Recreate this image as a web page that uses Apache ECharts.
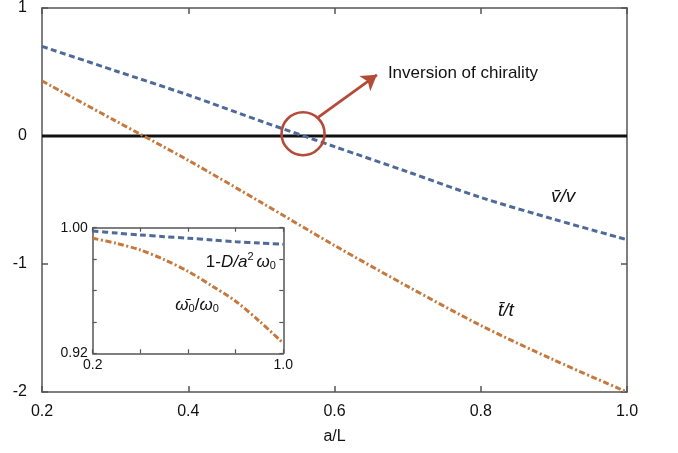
<!DOCTYPE html>
<html>
<head>
<meta charset="utf-8">
<script src="https://cdn.jsdelivr.net/npm/echarts@6/dist/echarts.min.js"></script>
<style>
  html, body { margin: 0; padding: 0; background: #fff; }
  #chart { width: 678px; height: 453px; }
</style>
</head>
<body>
<div id="chart"></div>
<script>
// main panel: a/L vs ratios
const aL = [0.2, 0.3, 0.4, 0.5, 0.6, 0.7, 0.8, 0.9, 1.0];
const vRatio = [0.70, 0.51, 0.32, 0.115, -0.083, -0.28, -0.48, -0.65, -0.81];
const tRatio = [0.43, 0.12, -0.19, -0.52, -0.855, -1.175, -1.48, -1.75, -2.0];
const zeroLineX = [0.2, 1.0];
const zeroLineY = [0, 0];

// inset panel
const insetAL = [0.2, 0.3, 0.4, 0.5, 0.6, 0.7, 0.8, 0.9, 1.0];
const dTerm = [0.9979, 0.9966, 0.9954, 0.9943, 0.9933, 0.9922, 0.9911, 0.9902, 0.9894];
const omegaRatio = [0.9933, 0.990, 0.9858, 0.9797, 0.9722, 0.963, 0.9532, 0.9404, 0.9264];

// annotation anchors (data coords)
const circleAt = [0.557, 0.018];
const arrowFrom = [0.578, 0.147];
const arrowTo = [0.658, 0.478];
const noteAt = [0.673, 0.488];
const mainLabels = [
  { text: "v\u0304/v", at: [0.9125, -0.473] },
  { text: "t\u0304/t", at: [0.8345, -1.364] },
];
const insetLabels = [
  { text: "1-{i|D/a}{s|2}{i|\u03c9}{b|0}", at: [0.822, 0.9782] },
  { text: "{i|\u03c9\u0304}{b|0}/{i|\u03c9}{b|0}", at: [0.638, 0.9508] },
];

const FONT = "Liberation Sans";
const BLUE = "#4e6a97";
const ORANGE = "#c5793f";
const RED = "#b44a38";
const AXIS = "#555";
const INK = "#111";

const pairs = (xs, ys) => xs.map((x, i) => [x, ys[i]]);

const axisCommon = (extra) => ({
  type: "value",
  axisLine: { show: true, onZero: false, lineStyle: { color: AXIS, width: 1.5 } },
  axisTick: { show: true, inside: true, length: 6, lineStyle: { color: AXIS, width: 1.5 } },
  splitLine: { show: false },
  axisLabel: { show: false },
  ...extra,
});
const insetTick = { show: true, inside: true, length: 4, lineStyle: { color: AXIS, width: 1.2 } };

const chart = echarts.init(document.getElementById("chart"), null, { renderer: "canvas" });

chart.setOption({
  animation: false,
  backgroundColor: "#fff",
  grid: [
    { left: 42, top: 5, right: 51, bottom: 61 },
    { left: 92.7, top: 227.7, width: 190.6, height: 125.6, show: true, backgroundColor: "#fff", borderWidth: 0 },
  ],
  xAxis: [
    axisCommon({
      gridIndex: 0, min: 0.2, max: 1.0, interval: 0.2, position: "bottom",
      name: "a/L", nameLocation: "middle", nameGap: 37,
      nameTextStyle: { fontFamily: FONT, fontSize: 16, color: INK },
      axisLabel: { show: true, margin: 12, fontFamily: FONT, fontSize: 16, color: INK,
        formatter: (v) => v.toFixed(1) },
    }),
    axisCommon({ gridIndex: 0, min: 0.2, max: 1.0, interval: 0.2, position: "top" }),
    axisCommon({
      gridIndex: 1, min: 0.2, max: 1.0, interval: 0.2, position: "bottom", axisTick: insetTick,
      axisLabel: { show: true, margin: 5, fontFamily: FONT, fontSize: 14, color: INK,
        showMinLabel: true, showMaxLabel: true,
        formatter: (v) => (Math.abs(v - 0.2) < 1e-6 || Math.abs(v - 1) < 1e-6 ? v.toFixed(1) : "") },
    }),
    axisCommon({ gridIndex: 1, min: 0.2, max: 1.0, interval: 0.2, position: "top", axisTick: insetTick }),
  ],
  yAxis: [
    axisCommon({
      gridIndex: 0, min: -2, max: 1, interval: 1, position: "left",
      axisLabel: { show: true, margin: 15, fontFamily: FONT, fontSize: 16, color: INK },
    }),
    axisCommon({ gridIndex: 0, min: -2, max: 1, interval: 1, position: "right" }),
    axisCommon({
      gridIndex: 1, min: 0.92, max: 1.0, interval: 0.02, position: "left", axisTick: insetTick,
      axisLabel: { show: true, margin: 5, fontFamily: FONT, fontSize: 14, color: INK,
        showMinLabel: true, showMaxLabel: true,
        formatter: (v) => (Math.abs(v - 0.92) < 1e-6 || Math.abs(v - 1) < 1e-6 ? v.toFixed(2) : "") },
    }),
    axisCommon({ gridIndex: 1, min: 0.92, max: 1.0, interval: 0.02, position: "right", axisTick: insetTick }),
  ],
  series: [
    {
      type: "line", xAxisIndex: 0, yAxisIndex: 0, data: pairs(zeroLineX, zeroLineY),
      showSymbol: false, lineStyle: { color: INK, width: 2.8 }, silent: true,
    },
    {
      type: "line", name: "v", xAxisIndex: 0, yAxisIndex: 0, data: pairs(aL, vRatio),
      smooth: 0.3, showSymbol: false,
      lineStyle: { color: BLUE, width: 3, type: [6, 3.5] },
    },
    {
      type: "line", name: "t", xAxisIndex: 0, yAxisIndex: 0, data: pairs(aL, tRatio),
      smooth: 0.3, showSymbol: false,
      lineStyle: { color: ORANGE, width: 3, type: [6, 2.5, 2, 2.5] },
    },
    {
      type: "line", name: "D", xAxisIndex: 2, yAxisIndex: 2, data: pairs(insetAL, dTerm),
      smooth: 0.3, showSymbol: false,
      lineStyle: { color: BLUE, width: 3, type: [6, 3.5] },
    },
    {
      type: "line", name: "omega", xAxisIndex: 2, yAxisIndex: 2, data: pairs(insetAL, omegaRatio),
      smooth: 0.3, showSymbol: false,
      lineStyle: { color: ORANGE, width: 3, type: [6, 2.5, 2, 2.5] },
    },
    // circle + arrow annotation
    {
      type: "scatter", xAxisIndex: 0, yAxisIndex: 0, data: [circleAt],
      symbol: "circle", symbolSize: 43, silent: true, z: 5,
      itemStyle: { color: "rgba(0,0,0,0)", borderColor: RED, borderWidth: 2.6, opacity: 1 },
      markLine: {
        silent: true, animation: false,
        symbol: ["none", "arrow"], symbolSize: [14, 15],
        label: { show: false },
        lineStyle: { color: RED, width: 2.8, type: "solid", opacity: 1 },
        data: [[{ coord: arrowFrom }, { coord: arrowTo }]],
      },
    },
    {
      type: "scatter", xAxisIndex: 0, yAxisIndex: 0, data: [noteAt],
      symbolSize: 0, silent: true, itemStyle: { opacity: 1 },
      label: { show: true, position: "right", distance: 0, formatter: "Inversion of chirality",
        fontFamily: FONT, fontSize: 17, color: INK },
    },
    {
      type: "scatter", xAxisIndex: 0, yAxisIndex: 0, symbolSize: 0, silent: true, itemStyle: { opacity: 1 },
      data: mainLabels.map((d) => ({ value: d.at, name: d.text })),
      label: { show: true, position: "inside", formatter: (p) => p.name,
        fontFamily: FONT, fontSize: 19, fontStyle: "italic", color: INK },
    },
    {
      type: "scatter", xAxisIndex: 2, yAxisIndex: 2, symbolSize: 0, silent: true, itemStyle: { opacity: 1 },
      data: insetLabels.map((d) => ({ value: d.at, name: d.text })),
      label: { show: true, position: "inside", formatter: (p) => p.name,
        fontFamily: FONT, fontSize: 17, color: INK,
        rich: {
          i: { fontFamily: FONT, fontSize: 17, fontStyle: "italic", color: INK },
          s: { fontFamily: FONT, fontSize: 11, color: INK, verticalAlign: "top", lineHeight: 20, padding: [0, 3, 6, 0] },
          b: { fontFamily: FONT, fontSize: 11, color: INK, verticalAlign: "bottom", lineHeight: 20, padding: [8, 0, 0, 0] },
        } },
    },
  ],
});
</script>
</body>
</html>
